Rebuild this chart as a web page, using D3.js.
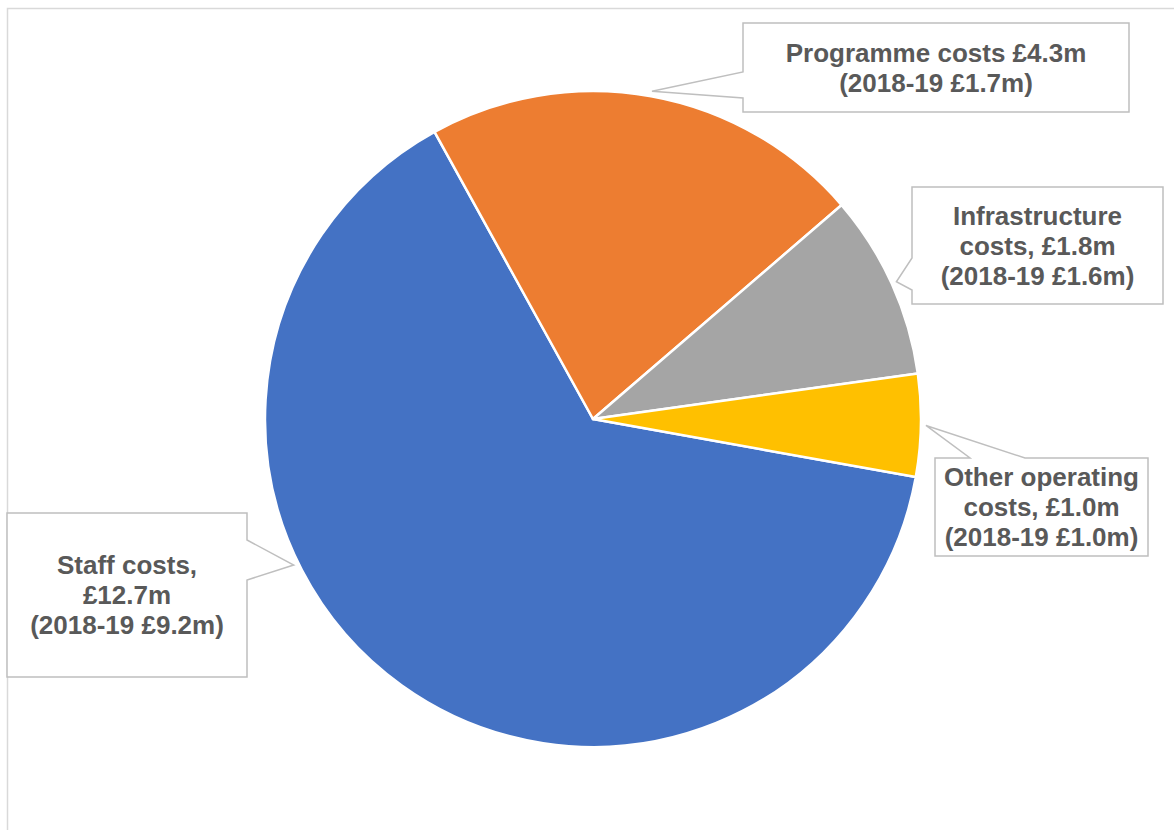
<!DOCTYPE html>
<html>
<head>
<meta charset="utf-8">
<script src="https://cdn.jsdelivr.net/npm/d3@7"></script>
<style>
  body { margin: 0; background: #fff; }
  svg { display: block; }
</style>
</head>
<body>
<div class="chart"></div>
<script>
// spending categories, 2019-20 (£m) and prior year
const categories = ['Staff costs', 'Programme costs', 'Infrastructure costs', 'Other operating costs']
const values = [12.7, 4.3, 1.8, 1.0]
const priorValues = [9.2, 1.7, 1.6, 1.0]
const colors = ['#4472C4', '#ED7D31', '#A5A5A5', '#FFC000']

// label text lines for each callout
const labelLines = [
  ['Staff costs,', '£12.7m', '(2018-19 £9.2m)'],
  ['Programme costs £4.3m', '(2018-19 £1.7m)'],
  ['Infrastructure', 'costs, £1.8m', '(2018-19 £1.6m)'],
  ['Other operating', 'costs, £1.0m', '(2018-19 £1.0m)']
]

// callout boxes: box rect, side the pointer leaves from, notch span
const callouts = [
  {x: 7, y: 513, w: 240, h: 164, side: 'right', n0: 540, n1: 580, tipDeg: 244},
  {x: 743, y: 23, w: 386, h: 89, side: 'left', n0: 72, n1: 98},
  {x: 912, y: 187, w: 251, h: 117, side: 'left', n0: 258, n1: 290},
  {x: 935, y: 458, w: 213, h: 98, side: 'top', n0: 970, n1: 1025}
]

const svg = d3.select('.chart').append('svg')
  .attr('width', 1174)
  .attr('height', 830)

// chart frame (runs off the right and bottom)
svg.append('rect')
  .attr('x', 7.5).attr('y', 8.5)
  .attr('width', 1300).attr('height', 900)
  .attr('fill', 'none')
  .attr('stroke', '#d9d9d9')
  .attr('stroke-width', 1.5)

const cx = 593, cy = 419, radius = 328
const g = svg.append('g').attr('transform', `translate(${cx}, ${cy})`)

const startDeg = 100.2
const pie = d3.pie()
  .sort(null)
  .value(d => d)
  .startAngle(startDeg * Math.PI / 180)
  .endAngle(startDeg * Math.PI / 180 + 2 * Math.PI)

const arcs = pie(values)
const arc = d3.arc().innerRadius(0).outerRadius(radius)

g.selectAll('path.slice')
  .data(arcs)
  .enter()
  .append('path')
  .attr('class', 'slice')
  .attr('d', arc)
  .attr('fill', (d, i) => colors[i])
  .attr('stroke', '#fff')
  .attr('stroke-width', 2.5)
  .attr('stroke-linejoin', 'round')

// callout shapes
function calloutPath(c, tip) {
  const x0 = c.x, y0 = c.y, x1 = c.x + c.w, y1 = c.y + c.h
  const p = d3.path()
  p.moveTo(x0, y0)
  if (c.side === 'top') {
    p.lineTo(c.n0, y0); p.lineTo(tip[0], tip[1]); p.lineTo(c.n1, y0)
  }
  p.lineTo(x1, y0)
  if (c.side === 'right') {
    p.lineTo(x1, c.n0); p.lineTo(tip[0], tip[1]); p.lineTo(x1, c.n1)
  }
  p.lineTo(x1, y1)
  p.lineTo(x0, y1)
  if (c.side === 'left') {
    p.lineTo(x0, c.n1); p.lineTo(tip[0], tip[1]); p.lineTo(x0, c.n0)
  }
  p.closePath()
  return p.toString()
}

const labels = svg.selectAll('g.callout')
  .data(arcs)
  .enter()
  .append('g')
  .attr('class', 'callout')

labels.append('path')
  .attr('d', (d, i) => {
    const c = callouts[i]
    const a = c.tipDeg != null ? c.tipDeg * Math.PI / 180 : (d.startAngle + d.endAngle) / 2
    const rr = radius + 5
    const tip = [cx + rr * Math.sin(a), cy - rr * Math.cos(a)]
    return calloutPath(c, tip)
  })
  .attr('fill', '#fff')
  .attr('stroke', '#bfbfbf')
  .attr('stroke-width', 1.5)

labels.each(function (d, i) {
  const c = callouts[i]
  const lines = labelLines[i]
  const lh = 30
  const midY = c.y + c.h / 2
  const firstBase = midY - (lines.length - 1) * lh / 2 + 9
  const t = d3.select(this).append('text')
    .attr('text-anchor', 'middle')
    .attr('font-family', 'Liberation Sans, Arial, sans-serif')
    .attr('font-weight', 'bold')
    .attr('font-size', '26px')
    .attr('fill', '#595959')
  lines.forEach((s, k) => {
    t.append('tspan')
      .attr('x', c.x + c.w / 2)
      .attr('y', firstBase + k * lh)
      .text(s)
  })
})
</script>
</body>
</html>
